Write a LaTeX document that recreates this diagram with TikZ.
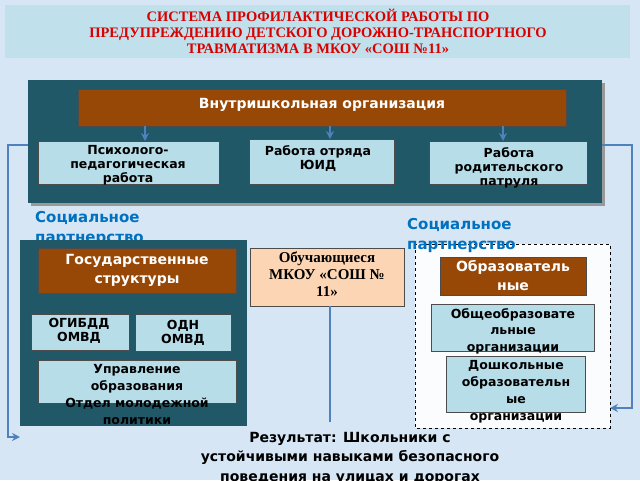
\documentclass[tikz,border=0pt]{standalone}
\usepackage{fontspec}
\setmainfont{DejaVu Sans}
\newfontfamily\tfont{Liberation Serif}
\usetikzlibrary{arrows.meta}
\definecolor{bg}{HTML}{D6E6F4}
\definecolor{teal}{HTML}{215868}
\definecolor{brn}{HTML}{974806}
\definecolor{lb}{HTML}{B7DDE8}
\definecolor{peach}{HTML}{FCD5B4}
\definecolor{arr}{HTML}{4F81BD}
\definecolor{sblue}{HTML}{0070C0}
\begin{document}
\begin{tikzpicture}[x=1pt,y=-1pt,
 bx/.style={draw=black!70,line width=0.6pt},
 tx/.style={font=\bfseries\fontsize{12.5}{14}\selectfont,align=center,inner sep=0},
 wt/.style={tx,text=white,font=\bfseries\fontsize{14}{19}\selectfont},
 ar/.style={draw=arr,line width=2.4pt,-{Stealth[length=8pt,width=8pt]}},
 st/.style={text=sblue,font=\bfseries\fontsize{15}{20}\selectfont,anchor=north west,align=left,inner sep=0}]
\fill[bg] (0,0) rectangle (640,480);
\useasboundingbox (0,0) rectangle (640,480);
% title
\fill[lb!70!bg] (5,5) rectangle (630,58);
\node[text=red!85!black,font=\tfont\bfseries\fontsize{14.5}{16}\selectfont,align=center] (title) at (318,31) {СИСТЕМА ПРОФИЛАКТИЧЕСКОЙ РАБОТЫ ПО\\ПРЕДУПРЕЖДЕНИЮ ДЕТСКОГО ДОРОЖНО-ТРАНСПОРТНОГО\\ТРАВМАТИЗМА В МКОУ «СОШ №11»};
% top box
\fill[black!40] (31,83) rectangle (605,206);
\fill[teal] (28,80) rectangle (602,203);
\draw[bx,fill=brn] (78,89) rectangle (566,126);
\node[wt] (vn) at (322,105) {Внутришкольная организация};
\draw[bx,fill=lb] (38,141) rectangle (219,184);
\node[tx,anchor=north] (ps) at (128,145) {Психолого-\\педагогическая\\работа};
\draw[bx,fill=lb] (249,139) rectangle (394,184);
\node[tx,anchor=north] (ui) at (318,145) {Работа отряда\\ЮИД};
\draw[bx,fill=lb] (429,141) rectangle (587,184);
\node[tx,anchor=north] (rp) at (509,147) {Работа\\родительского\\патруля};
\draw[ar] (145,126) -- (145,141);
\draw[ar] (330,126) -- (330,139);
\draw[ar] (503,126) -- (503,141);
% side brackets
\draw[ar] (28,145) -- (8,145) -- (8,437) -- (20,437);
\draw[ar] (602,145) -- (632,145) -- (632,408) -- (610,408);
% social texts
\node[st] (s1) at (35,211) {Социальное\\партнерство};
% left block
\fill[teal] (20,240) rectangle (247,426);
\draw[bx,fill=brn] (38,248) rectangle (236,293);
\node[wt] (gs) at (137,270) {Государственные\\структуры};
\draw[bx,fill=lb] (31,314) rectangle (129,350);
\node[tx,anchor=north] (og) at (79,318) {ОГИБДД\\ОМВД};
\draw[bx,fill=lb] (135,314) rectangle (231,351);
\node[tx,anchor=north] (od) at (183,320) {ОДН\\ОМВД};
\draw[bx,fill=lb] (38,360) rectangle (236,403);
\node[tx,anchor=north,font=\bfseries\fontsize{12.5}{17}\selectfont] (up) at (137,364) {Управление\\образования\\Отдел молодежной\\политики};
% center
\draw[bx,fill=peach] (250,248) rectangle (404,306);
\node[tx,font=\tfont\bfseries\fontsize{15}{17}\selectfont,anchor=north] (ob) at (327,252) {Обучающиеся\\МКОУ «СОШ №\\11»};
\draw[draw=arr,line width=2.4pt] (330,306) -- (330,422);
% right block
\draw[black,dashed,fill=white!90!bg] (415,244) rectangle (610,428);
\node[st] (s2) at (407,218) {Социальное\\партнерство};
\draw[bx,fill=brn] (440,257) rectangle (586,295);
\node[wt,anchor=north] (oz) at (513,260) {Образователь\\ные};
\draw[bx,fill=lb] (431,304) rectangle (594,351);
\node[tx,anchor=north,font=\bfseries\fontsize{12.5}{16.5}\selectfont] (oo) at (513,308) {Общеобразовате\\льные\\организации};
\draw[bx,fill=lb] (446,356) rectangle (585,412);
\node[tx,anchor=north,font=\bfseries\fontsize{12.5}{17}\selectfont] (do) at (516,360) {Дошкольные\\образовательн\\ые\\организации};
% result
\node[tx,font=\bfseries\fontsize{14}{19.5}\selectfont,anchor=north] (res) at (350,432) {Результат: Школьники с\\устойчивыми навыками безопасного\\поведения на улицах и дорогах};
\end{tikzpicture}
\end{document}
